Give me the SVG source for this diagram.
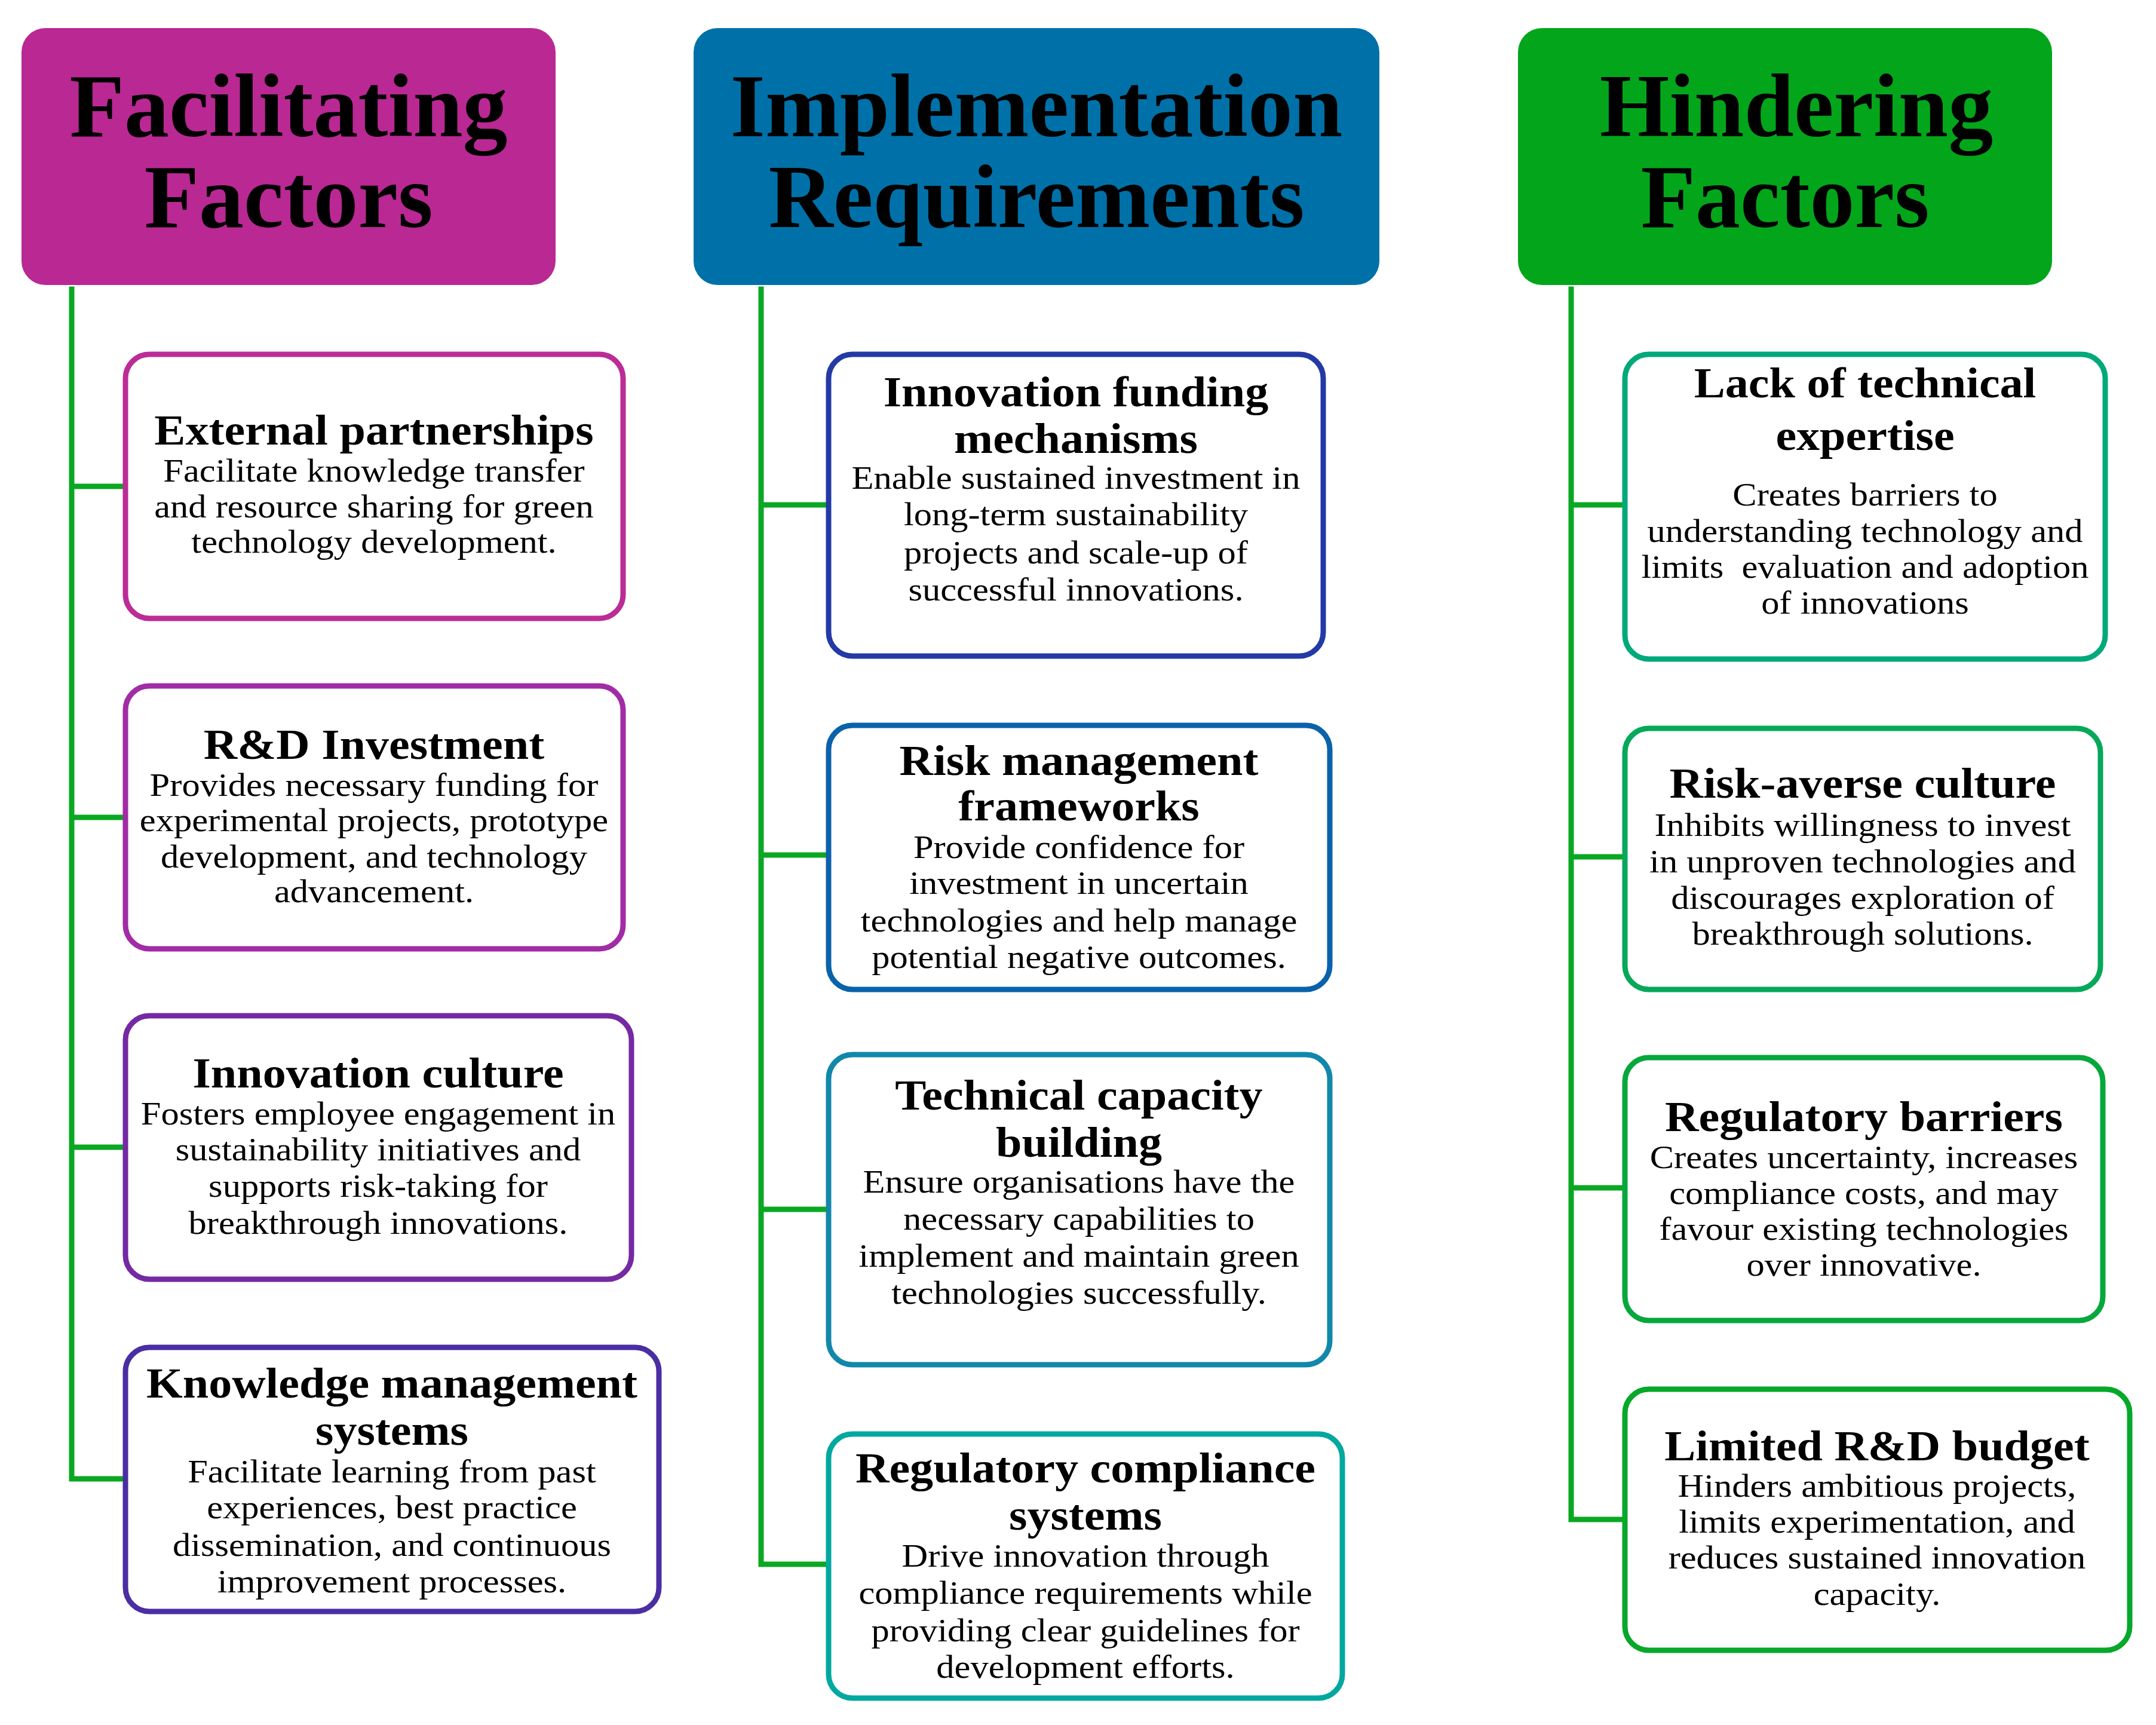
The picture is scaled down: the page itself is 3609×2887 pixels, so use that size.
<svg xmlns="http://www.w3.org/2000/svg" width="3609" height="2887" viewBox="0 0 3609 2887">
<style>
.hdr{font-family:"Liberation Serif","Times New Roman",serif;font-weight:bold;font-size:150px;fill:#000;text-anchor:middle}
.box{fill:#fff;stroke-width:9}
.t{font-family:"Liberation Serif","Times New Roman",serif;font-weight:bold;font-size:71px;fill:#000;text-anchor:middle}
.b{font-family:"Liberation Serif","Times New Roman",serif;font-size:55px;fill:#000;text-anchor:middle}
.ln{stroke:#0AA822;stroke-width:9;fill:none;stroke-linecap:square}
</style>
<rect width="3609" height="2887" fill="#fff"/>
<g id="connectors">
<path class="ln" d="M120 484 V2475 H210 M120 814 H210 M120 1368 H210 M120 1920 H210"/>
<path class="ln" d="M1274 484 V2618 H1387 M1274 845 H1387 M1274 1431 H1387 M1274 2024 H1387"/>
<path class="ln" d="M2630 484 V2543 H2720 M2630 845 H2720 M2630 1434 H2720 M2630 1988 H2720"/>
</g>
<g id="hdr-facilitating">
<rect x="36" y="47" width="894" height="430" rx="40" fill="#B92893"/>
<text class="hdr" x="483" y="228">Facilitating</text>
<text class="hdr" x="483" y="380">Factors</text>
</g>
<g id="hdr-implementation">
<rect x="1161" y="47" width="1148" height="430" rx="40" fill="#0071A8"/>
<text class="hdr" x="1735" y="228">Implementation</text>
<text class="hdr" x="1735" y="380">Requirements</text>
</g>
<g id="hdr-hindering">
<rect x="2541" y="47" width="894" height="430" rx="40" fill="#03A61A"/>
<text class="hdr" x="3007" y="228">Hindering</text>
<text class="hdr" x="2988" y="380">Factors</text>
</g>

<g id="f1">
<rect class="box" x="210" y="593" width="833" height="442" rx="40" stroke="#BC2C97"/>
<g transform="translate(626 0) scale(1.1 1)">
<text class="t" x="0" y="744">External partnerships</text>
<text class="b" x="0" y="806">Facilitate knowledge transfer</text>
<text class="b" x="0" y="866">and resource sharing for green</text>
<text class="b" x="0" y="925">technology development.</text>
</g>
</g>
<g id="f2">
<rect class="box" x="210" y="1148" width="833" height="440" rx="40" stroke="#A22BA6"/>
<g transform="translate(626 0) scale(1.1 1)">
<text class="t" x="0" y="1270">R&amp;D Investment</text>
<text class="b" x="0" y="1332">Provides necessary funding for</text>
<text class="b" x="0" y="1391">experimental projects, prototype</text>
<text class="b" x="0" y="1452">development, and technology</text>
<text class="b" x="0" y="1510">advancement.</text>
</g>
</g>
<g id="f3">
<rect class="box" x="210" y="1700" width="847" height="441" rx="40" stroke="#7529A3"/>
<g transform="translate(633 0) scale(1.1 1)">
<text class="t" x="0" y="1820">Innovation culture</text>
<text class="b" x="0" y="1882">Fosters employee engagement in</text>
<text class="b" x="0" y="1942">sustainability initiatives and</text>
<text class="b" x="0" y="2003">supports risk-taking for</text>
<text class="b" x="0" y="2065">breakthrough innovations.</text>
</g>
</g>
<g id="f4">
<rect class="box" x="210" y="2255" width="893" height="442" rx="40" stroke="#4A2EA2"/>
<g transform="translate(656 0) scale(1.1 1)">
<text class="t" x="0" y="2339">Knowledge management</text>
<text class="t" x="0" y="2418">systems</text>
<text class="b" x="0" y="2481">Facilitate learning from past</text>
<text class="b" x="0" y="2541">experiences, best practice</text>
<text class="b" x="0" y="2604">dissemination, and continuous</text>
<text class="b" x="0" y="2665">improvement processes.</text>
</g>
</g>

<g id="i1">
<rect class="box" x="1387" y="593" width="828" height="505" rx="40" stroke="#233AA6"/>
<g transform="translate(1801 0) scale(1.1 1)">
<text class="t" x="0" y="680">Innovation funding</text>
<text class="t" x="0" y="758">mechanisms</text>
<text class="b" x="0" y="818">Enable sustained investment in</text>
<text class="b" x="0" y="879">long-term sustainability</text>
<text class="b" x="0" y="943">projects and scale-up of</text>
<text class="b" x="0" y="1005">successful innovations.</text>
</g>
</g>
<g id="i2">
<rect class="box" x="1387" y="1214" width="839" height="442" rx="40" stroke="#0A62AB"/>
<g transform="translate(1806 0) scale(1.1 1)">
<text class="t" x="0" y="1297">Risk management</text>
<text class="t" x="0" y="1373">frameworks</text>
<text class="b" x="0" y="1436">Provide confidence for</text>
<text class="b" x="0" y="1496">investment in uncertain</text>
<text class="b" x="0" y="1559">technologies and help manage</text>
<text class="b" x="0" y="1620">potential negative outcomes.</text>
</g>
</g>
<g id="i3">
<rect class="box" x="1387" y="1765" width="839" height="519" rx="40" stroke="#1187AA"/>
<g transform="translate(1806 0) scale(1.1 1)">
<text class="t" x="0" y="1857">Technical capacity</text>
<text class="t" x="0" y="1936">building</text>
<text class="b" x="0" y="1996">Ensure organisations have the</text>
<text class="b" x="0" y="2058">necessary capabilities to</text>
<text class="b" x="0" y="2120">implement and maintain green</text>
<text class="b" x="0" y="2182">technologies successfully.</text>
</g>
</g>
<g id="i4">
<rect class="box" x="1387" y="2400" width="860" height="442" rx="40" stroke="#00A8A0"/>
<g transform="translate(1817 0) scale(1.1 1)">
<text class="t" x="0" y="2481">Regulatory compliance</text>
<text class="t" x="0" y="2560">systems</text>
<text class="b" x="0" y="2622">Drive innovation through</text>
<text class="b" x="0" y="2684">compliance requirements while</text>
<text class="b" x="0" y="2747">providing clear guidelines for</text>
<text class="b" x="0" y="2808">development efforts.</text>
</g>
</g>

<g id="h1">
<rect class="box" x="2720" y="593" width="804" height="510" rx="40" stroke="#00A97A"/>
<g transform="translate(3122 0) scale(1.1 1)">
<text class="t" x="0" y="665">Lack of technical</text>
<text class="t" x="0" y="753">expertise</text>
<text class="b" x="0" y="846">Creates barriers to</text>
<text class="b" x="0" y="907">understanding technology and</text>
<text class="b" x="0" y="967" xml:space="preserve">limits  evaluation and adoption</text>
<text class="b" x="0" y="1027">of innovations</text>
</g>
</g>
<g id="h2">
<rect class="box" x="2720" y="1219" width="796" height="437" rx="40" stroke="#06A85A"/>
<g transform="translate(3118 0) scale(1.1 1)">
<text class="t" x="0" y="1335">Risk-averse culture</text>
<text class="b" x="0" y="1399">Inhibits willingness to invest</text>
<text class="b" x="0" y="1460">in unproven technologies and</text>
<text class="b" x="0" y="1521">discourages exploration of</text>
<text class="b" x="0" y="1581">breakthrough solutions.</text>
</g>
</g>
<g id="h3">
<rect class="box" x="2720" y="1770" width="800" height="440" rx="40" stroke="#06A83C"/>
<g transform="translate(3120 0) scale(1.1 1)">
<text class="t" x="0" y="1893">Regulatory barriers</text>
<text class="b" x="0" y="1955">Creates uncertainty, increases</text>
<text class="b" x="0" y="2015">compliance costs, and may</text>
<text class="b" x="0" y="2075">favour existing technologies</text>
<text class="b" x="0" y="2135">over innovative.</text>
</g>
</g>
<g id="h4">
<rect class="box" x="2720" y="2325" width="845" height="437" rx="40" stroke="#06A82A"/>
<g transform="translate(3142 0) scale(1.1 1)">
<text class="t" x="0" y="2444">Limited R&amp;D budget</text>
<text class="b" x="0" y="2505">Hinders ambitious projects,</text>
<text class="b" x="0" y="2565">limits experimentation, and</text>
<text class="b" x="0" y="2625">reduces sustained innovation</text>
<text class="b" x="0" y="2686">capacity.</text>
</g>
</g>
</svg>
